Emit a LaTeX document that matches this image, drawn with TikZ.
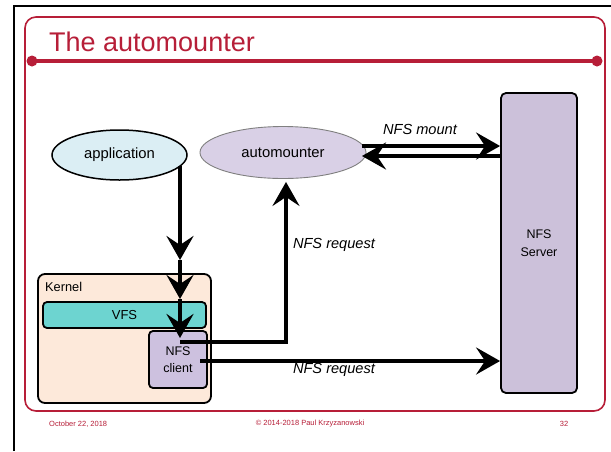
\documentclass[tikz,border=0pt]{standalone}
\usepackage{fontspec}
\setmainfont{Liberation Sans}
\usetikzlibrary{arrows.meta,shapes.geometric}
\definecolor{slidered}{RGB}{183,30,56}
\definecolor{appblue}{RGB}{219,238,244}
\definecolor{autopurple}{RGB}{217,208,230}
\definecolor{srvpurple}{RGB}{204,193,218}
\definecolor{clientpurple}{RGB}{205,193,223}
\definecolor{vfsteal}{RGB}{109,212,208}
\definecolor{kernelpeach}{RGB}{253,233,218}
\begin{document}
\begin{tikzpicture}[x=1pt,y=-1pt,
  body/.style={font=\fontsize{14.8}{17}\selectfont},
  lbl/.style={font=\fontsize{14.6}{17}\selectfont\itshape},
  foot/.style={font=\fontsize{7.5}{9}\selectfont, text=slidered, inner sep=0},
  arr/.style={line width=4.5pt, -{Stealth[length=24pt,width=27pt,inset=9pt]}},
  box/.style={draw=black, line width=1.8pt, inner sep=0},
]
\useasboundingbox (0,0) rectangle (611,451);
\fill[white] (0,0) rectangle (611,451);
% outer black edges
\draw[line width=2pt] (14,451) -- (14,6) -- (611,6);
% slide frame
\draw[slidered, line width=1.6pt, rounded corners=11pt] (25,17) rectangle (605,411);
\draw[slidered, line width=3.2pt] (32,61) -- (597,61);
\fill[slidered] (32,61) circle (5.5);
\fill[slidered] (597,61) circle (5.5);
\node[anchor=base west, inner sep=0, text=slidered, font=\fontsize{27}{31}\selectfont] (title) at (49,51) {The automounter};

% nodes
\node[ellipse, draw=black, line width=1.5pt, fill=appblue, minimum width=135, minimum height=50, body] (app) at (119.5,155) {application};
\node[ellipse, draw=gray, line width=0.9pt, fill=autopurple, minimum width=166, minimum height=52, body] (auto) at (283,152.5) {automounter};
\node[box, rounded corners=5pt, fill=srvpurple, minimum width=76, minimum height=300, align=center, font=\fontsize{12.5}{17.5}\selectfont] (srv) at (539,243) {NFS\\Server};
\node[box, rounded corners=7pt, fill=kernelpeach, minimum width=173, minimum height=129] (kernel) at (124.5,338.5) {};
\node[anchor=west, inner sep=0, font=\fontsize{12.8}{15}\selectfont] (klabel) at (45,287) {Kernel};
\node[box, rounded corners=4pt, fill=vfsteal, minimum width=163, minimum height=26, font=\fontsize{13}{15}\selectfont] (vfs) at (124.5,315) {VFS};
\node[box, rounded corners=4pt, fill=clientpurple, minimum width=58, minimum height=57, align=center, font=\fontsize{12.5}{17}\selectfont] (client) at (178,359.5) {NFS\\client};

% connector points
\coordinate (appout) at (180,166);
\coordinate (t1) at (180,260);
\coordinate (t2) at (180,299);
\coordinate (t3) at (180,338);
\coordinate (r1) at (180,342);
\coordinate (r2) at (200,361);
\coordinate (m1) at (362,146);
\coordinate (m2) at (362,156);

% arrows
\draw[arr] (appout) -- (t1);
\draw[arr] (t1) -- (t2);
\draw[arr] (t2) -- (t3);
\draw[arr] (r1) -| ([xshift=3pt,yshift=-3pt]auto.south);
\draw[arr] (r2) -- (r2 -| srv.west);
\draw[arr] (m1) -- (m1 -| srv.west);
\draw[arr] (m2 -| srv.west) -- (m2);

% labels
\node[lbl] (lmount) at (420,129) {NFS mount};
\node[lbl] (lreq1) at (334,245) {NFS request};
\node[lbl] (lreq2) at (334,370) {NFS request};

% footer
\node[foot, anchor=west] (fdate) at (49,424) {October 22, 2018};
\node[foot] (fcopy) at (310,424) {© 2014-2018 Paul Krzyzanowski};
\node[foot] (fpage) at (564,424) {32};
\end{tikzpicture}
\end{document}
